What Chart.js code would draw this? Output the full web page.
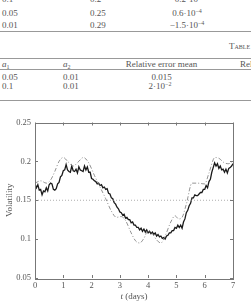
<!DOCTYPE html>
<html><head><meta charset="utf-8">
<script src="https://cdn.jsdelivr.net/npm/chart.js@4.4.0/dist/chart.umd.min.js"></script>
<style>
html,body{margin:0;padding:0;width:251px;height:301px;overflow:hidden;background:#fff;}
.t{position:absolute;font-family:"Liberation Serif","DejaVu Serif",serif;font-size:9px;color:#555;white-space:nowrap;line-height:1;transform:translateY(-50%);}
.c{transform:translate(-50%,-50%);}
.rule{position:absolute;left:0;width:251px;height:1px;background:#999;}
sup{font-size:6px;vertical-align:3px;line-height:0;}
sub{font-size:6px;vertical-align:-2px;line-height:0;}
.sc{font-variant:small-caps;}
#c{position:absolute;left:0;top:0;}
</style></head><body>
<div class="t" style="left:2px;top:-1px">0.1</div>
<div class="t" style="left:90px;top:-1px">0.2</div>
<div class="t c" style="left:187px;top:-1px">−0.2·10<sup>−4</sup></div>
<div class="t" style="left:2px;top:13px">0.05</div>
<div class="t" style="left:90px;top:13px">0.25</div>
<div class="t c" style="left:187px;top:13px">0.6·10<sup>−4</sup></div>
<div class="t" style="left:2px;top:24.5px">0.01</div>
<div class="t" style="left:90px;top:24.5px">0.29</div>
<div class="t c" style="left:187px;top:24.5px">−1.5·10<sup>−4</sup></div>
<div class="rule" style="top:31px"></div>
<div class="t sc" style="left:229px;top:45.5px">Table 4</div>
<div class="rule" style="top:58px"></div>
<div class="t" style="left:2px;top:64px"><i>a</i><sub>1</sub></div>
<div class="t" style="left:63px;top:64px"><i>a</i><sub>2</sub></div>
<div class="t c" style="left:161.5px;top:64px">Relative error mean</div>
<div class="t" style="left:240px;top:64px">Relative error std</div>
<div class="rule" style="top:69px"></div>
<div class="t" style="left:2px;top:76.5px">0.05</div>
<div class="t" style="left:63px;top:76.5px">0.01</div>
<div class="t c" style="left:161.5px;top:76.5px">0.015</div>
<div class="t" style="left:2px;top:85.5px">0.1</div>
<div class="t" style="left:63px;top:85.5px">0.01</div>
<div class="t c" style="left:160px;top:85.5px">2·10<sup>−2</sup></div>
<div class="rule" style="top:100px"></div>
<canvas id="c" width="251" height="301"></canvas>
<script>
const xTicks = [0,1,2,3,4,5,6,7];
const yTicks = [0.05,0.1,0.15,0.2,0.25];
const yTickLabels = ['0.05','0.1','0.15','0.2','0.25'];
const meanLevel = 0.15;
const estStep = 0.05;
const estimatedVol = [
.171,.166,.170,.163,.164,.157,.162,.161,.166,.162,
.170,.172,.171,.164,.163,.165,.171,.173,.180,.182,
.188,.189,.196,.189,.187,.186,.194,.188,.187,.190,
.185,.193,.189,.188,.187,.194,.189,.193,.186,.186,
.178,.177,.175,.174,.171,.172,.169,.170,.166,.167,
.164,.165,.159,.158,.153,.152,.147,.145,.141,.139,
.135,.134,.131,.132,.127,.128,.125,.125,.121,.122,
.118,.118,.115,.115,.112,.114,.110,.113,.109,.112,
.108,.110,.107,.109,.106,.108,.104,.106,.103,.104,
.101,.102,.100,.104,.105,.108,.108,.111,.111,.115,
.114,.118,.115,.118,.114,.122,.126,.134,.137,.143,
.146,.153,.153,.157,.156,.156,.158,.160,.160,.164,
.164,.169,.166,.174,.177,.186,.192,.198,.194,.197,
.191,.194,.189,.190,.186,.190,.185,.191,.192,.194,
.197];
const trueT = [0,0.2,0.4,0.55,0.7,0.85,1.0,1.18,1.35,1.52,1.71,1.9,2.1,2.3,2.5,2.7,2.88,3.05,3.2,3.4,3.55,3.7,3.85,4.0,4.15,4.3,4.45,4.6,4.8,4.95,5.08,5.2,5.35,5.55,5.75,6.0,6.15,6.36,6.5,6.7,6.85,7.0];
const trueV = [0.172,0.175,0.172,0.176,0.187,0.200,0.205,0.199,0.194,0.199,0.205,0.198,0.182,0.167,0.152,0.136,0.128,0.129,0.124,0.108,0.098,0.095,0.101,0.111,0.107,0.099,0.095,0.104,0.122,0.130,0.126,0.128,0.145,0.172,0.172,0.171,0.185,0.205,0.204,0.198,0.197,0.201];

const estPts = estimatedVol.map((v,i)=>({x:i*estStep,y:v}));
const truePts = trueT.map((t,i)=>({x:t,y:trueV[i]}));
const FONT = '"Liberation Serif","DejaVu Serif",serif';

const framePlugin = {
  id:'frame',
  afterDraw(chart){
    const {ctx,chartArea:a,scales:{x,y}} = chart;
    ctx.save();
    ctx.strokeStyle='#777'; ctx.lineWidth=1;
    ctx.strokeRect(Math.round(a.left)+0.5,Math.round(a.top)+0.5,Math.round(a.right-a.left),Math.round(a.bottom-a.top));
    ctx.beginPath();
    const L=3;
    xTicks.forEach(t=>{const px=Math.round(x.getPixelForValue(t))+0.5;
      ctx.moveTo(px,a.bottom);ctx.lineTo(px,a.bottom-L);
      ctx.moveTo(px,a.top);ctx.lineTo(px,a.top+L);});
    yTicks.forEach(v=>{const py=Math.round(y.getPixelForValue(v))+0.5;
      ctx.moveTo(a.left,py);ctx.lineTo(a.left+L,py);
      ctx.moveTo(a.right,py);ctx.lineTo(a.right-L,py);});
    ctx.stroke();
    ctx.fillStyle='#555'; ctx.textBaseline='middle';
    const cx=(a.left+a.right)/2, cy=297;
    ctx.font='italic 9px '+FONT; const w1=ctx.measureText('t').width;
    ctx.font='9px '+FONT; const w2=ctx.measureText(' (days)').width;
    const sx=cx-(w1+w2)/2;
    ctx.font='italic 9px '+FONT; ctx.fillText('t',sx,cy);
    ctx.font='9px '+FONT; ctx.fillText(' (days)',sx+w1,cy);
    ctx.restore();
  }
};

new Chart(document.getElementById('c'),{
  type:'line',
  data:{datasets:[
    {label:'Mean',data:[{x:0,y:meanLevel},{x:7,y:meanLevel}],borderColor:'#999',borderWidth:0.8,borderDash:[1,2],pointRadius:0,fill:false},
    {label:'True volatility',data:truePts,borderColor:'#777',borderWidth:0.8,borderDash:[4,2,1,2],pointRadius:0,tension:0.4,cubicInterpolationMode:'monotone',fill:false},
    {label:'Estimated volatility',data:estPts,borderColor:'#1a1a1a',borderWidth:1.3,pointRadius:0,tension:0,fill:false}
  ]},
  options:{
    responsive:false,animation:false,
    layout:{padding:{left:0,top:122.5,right:18,bottom:0}},
    plugins:{legend:{display:false},tooltip:{enabled:false}},
    scales:{
      x:{type:'linear',min:0,max:7,
        afterBuildTicks(s){s.ticks=xTicks.map(v=>({value:v}));},
        afterFit(s){s.height=23;},
        grid:{display:false,drawTicks:false},border:{display:false},
        ticks:{font:{family:FONT,size:8.5},color:'#555',padding:3,maxRotation:0,callback:(v)=>String(v)}},
      y:{type:'linear',min:0.05,max:0.25,
        afterBuildTicks(s){s.ticks=yTicks.map(v=>({value:v}));},
        afterFit(s){s.width=35;},
        grid:{display:false,drawTicks:false},border:{display:false},
        title:{display:true,text:'Volatility',font:{family:FONT,size:9},color:'#555',padding:{top:4,bottom:0}},
        ticks:{font:{family:FONT,size:8.5},color:'#555',padding:4,callback:(v)=>{const i=yTicks.findIndex(t=>Math.abs(t-v)<1e-9);return i>=0?yTickLabels[i]:'';}}}
    }
  },
  plugins:[framePlugin]
});
</script>
</body></html>
